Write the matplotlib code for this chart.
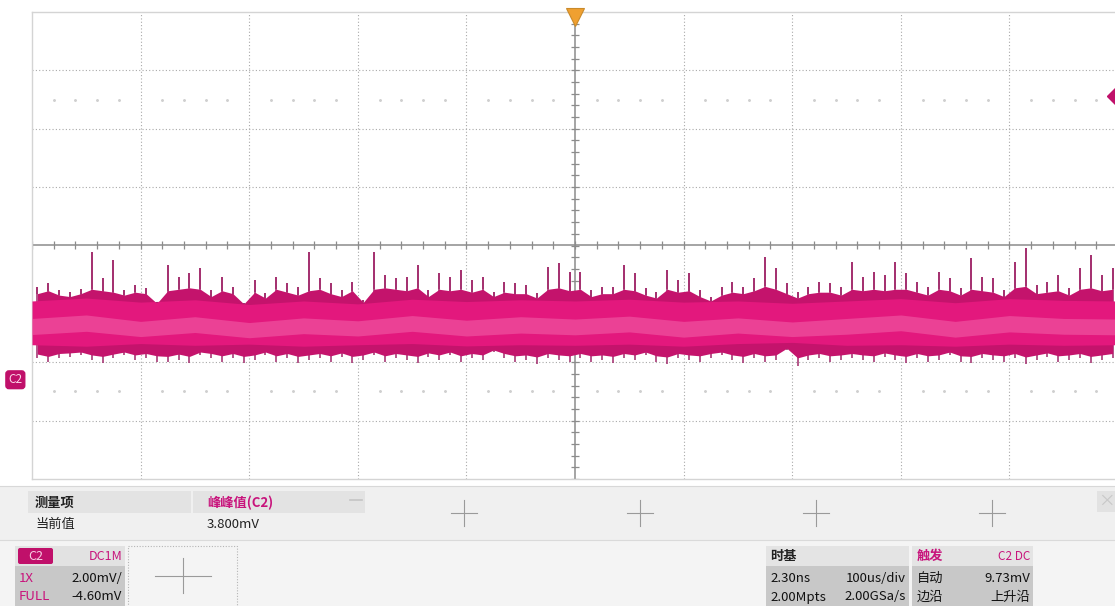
"""Oscilloscope screen grab: C2 noise, 2 mV/div, 100 us/div."""

import matplotlib.pyplot as plt
import numpy as np
from matplotlib.patches import Rectangle, FancyBboxPatch

plt.rcParams["font.family"] = ["Noto Sans CJK SC", "DejaVu Sans"]

# ---- scope settings -------------------------------------------------------
VOLT_PER_DIV = 2.0          # mV/div
OFFSET = 4.60               # ground marker sits 2.3 div below centre
TIME_PER_DIV = 100.0        # us/div
TRIG_LEVEL = 9.73           # mV

# ---- waveform (mV above channel ground) ------------------------------------
t_us = np.arange(-495, 500, 10)   # one reading every 10 us

# tallest spike in each 10 us slot
peak_mv = [
    3.18, 3.32, 3.08, 3.01, 3.11, 4.38, 3.49, 4.11, 3.08, 3.25,
    3.15, 2.67, 3.93, 3.52, 3.66, 3.83, 3.08, 3.52, 3.18, 2.63,
    3.42, 2.98, 3.52, 3.32, 3.18, 4.38, 3.49, 3.32, 3.08, 3.35,
    2.74, 4.38, 3.59, 3.49, 3.52, 3.93, 3.08, 3.66, 3.52, 3.76,
    3.42, 3.52, 3.01, 3.35, 3.32, 3.25, 2.98, 3.87, 4.00, 3.70,
    3.70, 3.08, 3.18, 3.18, 3.93, 3.66, 3.15, 3.01, 3.76, 3.42,
    3.66, 3.08, 2.84, 3.18, 3.35, 3.18, 3.49, 4.21, 3.83, 3.32,
    3.01, 3.18, 3.35, 3.32, 3.18, 4.04, 3.52, 3.70, 3.59, 4.04,
    3.66, 3.35, 3.18, 3.70, 3.49, 3.15, 4.18, 3.52, 3.49, 3.08,
    4.04, 4.52, 3.25, 3.35, 3.59, 3.15, 3.83, 4.28, 3.59, 3.83,
]

# top of the dense fringe in each slot
fringe_top = [
    2.95, 3.05, 2.90, 2.85, 2.95, 3.10, 3.05, 3.00, 2.90, 3.00,
    2.95, 2.62, 3.05, 3.10, 3.15, 3.10, 2.85, 3.05, 2.95, 2.60,
    3.00, 2.80, 3.10, 3.00, 2.90, 3.05, 3.10, 2.95, 2.85, 3.05,
    2.65, 3.10, 3.15, 3.10, 3.05, 3.15, 2.85, 3.10, 3.05, 3.10,
    3.00, 3.10, 2.85, 3.00, 2.95, 2.95, 2.80, 3.10, 3.15, 3.05,
    3.10, 2.85, 2.95, 2.95, 3.10, 3.05, 2.90, 2.80, 3.10, 3.00,
    3.05, 2.85, 2.70, 2.90, 3.00, 2.95, 3.05, 3.20, 3.10, 2.95,
    2.80, 2.95, 3.00, 3.00, 2.90, 3.10, 3.05, 3.10, 3.05, 3.10,
    3.10, 3.00, 2.90, 3.10, 3.05, 2.90, 3.10, 3.05, 3.00, 2.85,
    3.15, 3.20, 2.95, 3.00, 3.05, 2.90, 3.10, 3.15, 3.05, 3.10,
]

# bottom of the dense fringe in each slot
fringe_bot = [
    0.88, 0.80, 0.90, 0.92, 0.95, 0.85, 0.80, 0.88, 0.95, 0.85,
    0.90, 0.82, 0.80, 0.88, 0.80, 0.95, 0.90, 0.82, 0.90, 0.80,
    0.85, 0.95, 0.82, 0.90, 0.80, 0.85, 0.90, 0.82, 0.92, 0.80,
    0.85, 0.95, 0.82, 0.90, 0.85, 0.80, 0.92, 0.85, 0.95, 0.82,
    0.90, 0.85, 1.02, 0.90, 0.82, 0.85, 0.78, 0.90, 0.85, 0.82,
    0.90, 0.82, 0.85, 0.80, 0.90, 0.85, 0.95, 0.82, 0.78, 0.90,
    0.85, 0.82, 0.90, 0.95, 0.85, 0.80, 0.90, 0.82, 0.85, 1.08,
    0.75, 0.85, 0.90, 0.82, 0.85, 0.90, 0.85, 0.82, 0.92, 0.85,
    0.80, 0.90, 0.82, 0.85, 0.95, 0.82, 0.80, 0.90, 0.85, 0.82,
    0.90, 0.78, 0.85, 0.92, 0.82, 0.85, 0.90, 0.80, 0.85, 0.90,
]

# deepest dip in each slot
trough_mv = [
    0.75, 0.61, 0.75, 0.78, 0.85, 0.68, 0.58, 0.75, 0.85, 0.68,
    0.75, 0.61, 0.61, 0.68, 0.58, 0.85, 0.75, 0.61, 0.75, 0.58,
    0.68, 0.85, 0.61, 0.75, 0.58, 0.68, 0.75, 0.61, 0.78, 0.58,
    0.68, 0.85, 0.61, 0.75, 0.68, 0.58, 0.78, 0.68, 0.85, 0.61,
    0.75, 0.68, 0.95, 0.75, 0.61, 0.68, 0.55, 0.75, 0.68, 0.61,
    0.75, 0.61, 0.68, 0.58, 0.75, 0.68, 0.85, 0.61, 0.55, 0.75,
    0.68, 0.61, 0.75, 0.85, 0.68, 0.58, 0.75, 0.61, 0.68, 1.02,
    0.48, 0.68, 0.75, 0.61, 0.68, 0.75, 0.68, 0.61, 0.78, 0.68,
    0.58, 0.75, 0.61, 0.68, 0.85, 0.61, 0.58, 0.75, 0.68, 0.61,
    0.75, 0.55, 0.68, 0.78, 0.61, 0.68, 0.75, 0.58, 0.68, 0.75,
]

# dense body of the trace, one reading every 50 us
t_body = np.arange(-500, 501, 50)
core_top = [2.70, 2.80, 2.66, 2.74, 2.58, 2.70, 2.60, 2.76, 2.68, 2.74, 2.70,
            2.76, 2.66, 2.70, 2.62, 2.70, 2.78, 2.64, 2.78, 2.72, 2.70]
core_bot = [1.20, 1.15, 1.24, 1.18, 1.22, 1.15, 1.20, 1.24, 1.16, 1.20, 1.18,
            1.22, 1.15, 1.24, 1.28, 1.18, 1.20, 1.15, 1.22, 1.18, 1.20]
glow_top = [2.10, 2.22, 2.00, 2.16, 1.96, 2.12, 2.02, 2.20, 2.04, 2.16, 2.08,
            2.18, 2.00, 2.12, 1.98, 2.10, 2.22, 2.00, 2.20, 2.10, 2.08]
glow_bot = [1.55, 1.66, 1.48, 1.62, 1.44, 1.58, 1.50, 1.66, 1.50, 1.60, 1.54,
            1.64, 1.46, 1.60, 1.48, 1.56, 1.68, 1.46, 1.64, 1.56, 1.54]

# ---- readouts -------------------------------------------------------------
meas_name = "峰峰值(C2)"
meas_value = "3.800mV"
ch_rows = [("1X", "2.00mV/"), ("FULL", "-4.60mV")]
tb_rows = [("2.30ns", "100us/div"), ("2.00Mpts", "2.00GSa/s")]
trig_rows = [("自动", "9.73mV"), ("边沿", "上升沿")]

MAGENTA = "#c0106a"
PINK_TXT = "#c8147c"

W, H = 1115, 606
fig = plt.figure(figsize=(W / 100, H / 100), dpi=100, facecolor="white")

# full-figure layer for the instrument panel (pixel coordinates)
ui = fig.add_axes([0, 0, 1, 1], zorder=0)
ui.set_xlim(0, W)
ui.set_ylim(H, 0)
ui.axis("off")

# scope graticule: 10 x 8 divisions, right edge runs slightly off-screen
left, right, top, bot = 32, 1118, 12, 479
ax = fig.add_axes([left / W, 1 - bot / H, (right - left) / W, (bot - top) / H],
                  zorder=2)
ax.set_facecolor("white")
xmin, xmax = -5 * TIME_PER_DIV, 5 * TIME_PER_DIV
ymin, ymax = OFFSET - 4 * VOLT_PER_DIV, OFFSET + 4 * VOLT_PER_DIV
ax.set_xlim(xmin, xmax)
ax.set_ylim(ymin, ymax)
ax.set_xticks([])
ax.set_yticks([])
for s in ["left", "top", "bottom"]:
    ax.spines[s].set_color("#d4d4d4")
    ax.spines[s].set_linewidth(1.0)
ax.spines["right"].set_visible(False)

grid_kw = dict(color="#a9a9a9", lw=0.8, linestyle=(0, (1, 2)), zorder=1)
for i in range(1, 10):
    x = xmin + i * TIME_PER_DIV
    if x != 0:
        ax.axvline(x, **grid_kw)
for j in range(1, 8):
    y = ymin + j * VOLT_PER_DIV
    if abs(y - OFFSET) > 1e-6:
        ax.axhline(y, **grid_kw)

# centre axes with minor ticks
ax.axvline(0, color="#8c8c8c", lw=1.1, zorder=1)
ax.axhline(OFFSET, color="#8c8c8c", lw=1.1, zorder=1)
minor_t = np.arange(xmin, xmax + 1, TIME_PER_DIV / 5)
minor_v = np.arange(ymin, ymax + 0.01, VOLT_PER_DIV / 5)
ax.plot(minor_t, np.full_like(minor_t, OFFSET), ls="none", marker="|",
        ms=6, mew=0.9, color="#8c8c8c", zorder=1)
ax.plot(np.zeros_like(minor_v), minor_v, ls="none", marker="_",
        ms=6, mew=0.9, color="#8c8c8c", zorder=1)

# faint subdivision dots on two rows
sub_t = [x for x in minor_t if abs((x - xmin) % TIME_PER_DIV) > 1e-6]
for yrow in (OFFSET + 2.5 * VOLT_PER_DIV, OFFSET - 2.5 * VOLT_PER_DIV):
    ax.plot(sub_t, [yrow] * len(sub_t), ls="none", marker=".", ms=2.2,
            color="#cfcfcf", zorder=1)

# trace: spikes, jagged fringe, hot body, pale streak
ax.vlines(t_us, trough_mv, peak_mv, color="#a0286a", lw=1.1, zorder=3)
ax.fill_between(t_us, fringe_bot, fringe_top, color="#c4136c", lw=0, zorder=4)
ax.fill_between(t_body, core_bot, core_top, color="#e3187d", lw=0, zorder=5)
ax.fill_between(t_body, glow_bot, glow_top, color="#f46aae", alpha=0.5,
                lw=0, zorder=6)
ax.vlines(t_us, fringe_top, peak_mv, color="#a0286a", lw=1.1, zorder=7)

# trigger position / level markers
ax.plot(0, ymax - 0.17, marker="v", ms=13, color="#f0a030", mec="#c98a2a",
        mew=0.8, clip_on=False, zorder=8)
ax.plot(498, TRIG_LEVEL, marker="D", ms=9, color=MAGENTA, mec=MAGENTA,
        clip_on=False, zorder=8)

# channel ground marker
ax.annotate("C2", xy=(xmin, 0), xytext=(-12, 0), textcoords="offset points",
            ha="center", va="center", fontsize=8.5, color="#fbd6e8",
            annotation_clip=False, zorder=8,
            bbox=dict(boxstyle="round,pad=0.2,rounding_size=0.25",
                      fc=MAGENTA, ec=MAGENTA))

# ---- measurement strip ----------------------------------------------------
ui.add_patch(Rectangle((0, 486), W, 54, fc="#f0f0f0", ec="none"))
ui.plot([0, W], [486, 486], color="#d8d8d8", lw=0.8)
ui.add_patch(Rectangle((28, 491), 163, 22, fc="#e3e3e3", ec="none"))
ui.add_patch(Rectangle((193, 491), 172, 22, fc="#e3e3e3", ec="none"))
ui.plot([350, 362], [500, 500], color="#c4c4c4", lw=1.2)
ui.text(35, 503, "测量项", fontsize=9.5, fontweight="bold", va="center",
        color="#222222")
ui.text(207, 503, meas_name, fontsize=9.5, fontweight="bold", va="center",
        color=PINK_TXT)
ui.text(35, 524, "当前值", fontsize=9.5, va="center", color="#222222")
ui.text(207, 524, meas_value, fontsize=9.5, va="center", color="#222222")
for cx in (464, 640, 816, 992):
    ui.plot([cx - 13, cx + 13], [513, 513], color="#9a9a9a", lw=0.8)
    ui.plot([cx, cx], [500, 526], color="#9a9a9a", lw=0.8)
ui.add_patch(Rectangle((1097, 491), 18, 21, fc="#e2e2e2", ec="none"))
ui.text(1106, 501, "×", fontsize=12, ha="center", va="center",
        color="#c8c8c8")
ui.plot([0, W], [540, 540], color="#dadada", lw=0.8)
ui.add_patch(Rectangle((0, 541), W, 65, fc="#f4f4f4", ec="none"))

# channel box
ui.add_patch(Rectangle((15, 546), 110, 20, fc="#e2e2e2", ec="none"))
ui.add_patch(Rectangle((15, 566), 110, 40, fc="#c8c8c8", ec="none"))
ui.add_patch(FancyBboxPatch((18, 548), 35, 16,
                            boxstyle="round,pad=0,rounding_size=2",
                            fc=MAGENTA, ec="none"))
ui.text(35.5, 556, "C2", fontsize=9, ha="center", va="center", color="#f6cde2")
ui.text(122, 556, "DC1M", fontsize=9, ha="right", va="center", color=PINK_TXT)
for (lab, val), y in zip(ch_rows, (578, 597)):
    ui.text(19, y, lab, fontsize=9.5, va="center", color=PINK_TXT)
    ui.text(122, y, val, fontsize=9.5, ha="right", va="center", color="#111111")

ui.add_patch(Rectangle((128, 546), 109, 62, fc="none", ec="#b5b5b5", lw=0.8,
                       linestyle=(0, (1, 1.5))))
ui.plot([155, 211], [576, 576], color="#9a9a9a", lw=0.8)
ui.plot([183, 183], [558, 593], color="#9a9a9a", lw=0.8)

# timebase box
ui.add_patch(Rectangle((766, 546), 143, 20, fc="#e4e4e4", ec="none"))
ui.add_patch(Rectangle((766, 566), 143, 40, fc="#c8c8c8", ec="none"))
ui.text(770, 556, "时基", fontsize=9.5, fontweight="bold", va="center",
        color="#222222")
for (a, b), y in zip(tb_rows, (578, 597)):
    ui.text(770, y, a, fontsize=9.5, va="center", color="#111111")
    ui.text(906, y, b, fontsize=9.5, ha="right", va="center", color="#111111")

# trigger box
ui.add_patch(Rectangle((912, 546), 121, 20, fc="#e4e4e4", ec="none"))
ui.add_patch(Rectangle((912, 566), 121, 40, fc="#c8c8c8", ec="none"))
ui.text(917, 556, "触发", fontsize=9.5, fontweight="bold", va="center",
        color=PINK_TXT)
ui.text(1030, 556, "C2 DC", fontsize=8.5, ha="right", va="center",
        color=PINK_TXT)
for (a, b), y in zip(trig_rows, (578, 597)):
    ui.text(917, y, a, fontsize=9.5, va="center", color="#111111")
    ui.text(1030, y, b, fontsize=9.5, ha="right", va="center", color="#111111")

fig.savefig("out.png", dpi=100, facecolor="white")
